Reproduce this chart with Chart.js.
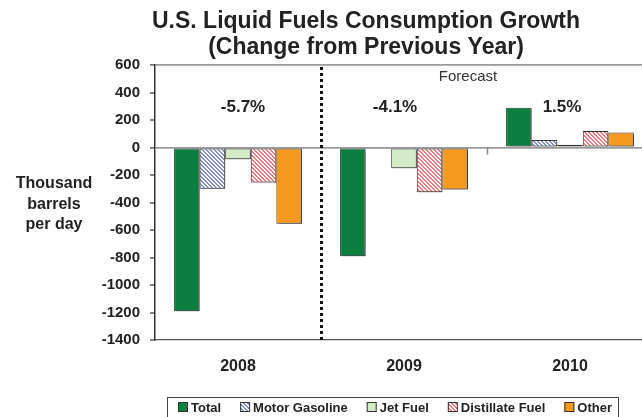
<!DOCTYPE html>
<html>
<head>
<meta charset="utf-8">
<script src="https://cdn.jsdelivr.net/npm/chart.js@4.4.1/dist/chart.umd.min.js"></script>
<style>
  html, body { margin: 0; padding: 0; background: #fff; overflow: hidden; width: 642px; height: 417px; }
  #wrap { position: absolute; left: 0; top: 0; width: 660px; height: 417px; }
</style>
</head>
<body>
<div id="wrap"><canvas id="c" width="660" height="417"></canvas></div>
<script>
// ---- Data ----
const categories = ['2008', '2009', '2010'];
const totalValues = [-1190, -790, 290];
const motorGasolineValues = [-300, -5, 55];
const jetFuelValues = [-85, -150, 20];
const distillateValues = [-255, -325, 120];
const otherValues = [-555, -305, 110];
const percentLabels = ['-5.7%', '-4.1%', '1.5%'];
const yTicks = [600, 400, 200, 0, -200, -400, -600, -800, -1000, -1200, -1400];
const seriesNames = ['Total', 'Motor Gasoline', 'Jet Fuel', 'Distillate Fuel', 'Other'];

const FONT = "'Liberation Sans', Arial, Helvetica, sans-serif";

function hatch(color) {
  const s = 4;
  const c = document.createElement('canvas');
  c.width = s; c.height = s;
  const g = c.getContext('2d');
  g.fillStyle = '#ffffff';
  g.fillRect(0, 0, s, s);
  g.fillStyle = color;
  for (let i = 0; i < s; i++) {
    g.fillRect(i, i, 1, 1);
    g.fillRect((i + 1) % s, i, 1, 1);
  }
  return document.getElementById('c').getContext('2d').createPattern(c, 'repeat');
}

const blueHatch = hatch('#8192CF');
const redHatch = hatch('#F27C7C');
const fills = ['#0A7F3F', blueHatch, '#D3EBC6', redHatch, '#F7991E'];
const series = [totalValues, motorGasolineValues, jetFuelValues, distillateValues, otherValues];

const annot = {
  id: 'annot',
  beforeDatasetsDraw(chart) {
    const ctx = chart.ctx;
    ctx.save();
    ctx.shadowColor = 'rgba(0,0,0,0.28)';
    ctx.shadowOffsetX = 2;
    ctx.shadowOffsetY = 2;
    ctx.shadowBlur = 0;
  },
  afterDatasetsDraw(chart) {
    const ctx = chart.ctx;
    ctx.restore();
    const x = chart.scales.x, y = chart.scales.y, a = chart.chartArea;
    // dotted separator between 2008 and 2009
    const xs = (x.getPixelForValue(0) + x.getPixelForValue(1)) / 2;
    ctx.save();
    ctx.strokeStyle = '#111';
    ctx.lineWidth = 3;
    ctx.setLineDash([3, 3]);
    ctx.beginPath();
    ctx.moveTo(Math.round(xs) + 0.5, a.top + 2);
    ctx.lineTo(Math.round(xs) + 0.5, a.bottom);
    ctx.stroke();
    ctx.restore();
    // small tick at zero between 2009 and 2010
    const xt = (x.getPixelForValue(1) + x.getPixelForValue(2)) / 2;
    const y0 = y.getPixelForValue(0);
    ctx.save();
    ctx.strokeStyle = '#888';
    ctx.lineWidth = 1.5;
    ctx.beginPath();
    ctx.moveTo(Math.round(xt) + 0.5, y0);
    ctx.lineTo(Math.round(xt) + 0.5, y0 + 7);
    ctx.stroke();
    ctx.restore();
  },
  afterDraw(chart) {
    const ctx = chart.ctx;
    const x = chart.scales.x, y = chart.scales.y;
    ctx.save();
    ctx.fillStyle = '#222';
    ctx.textAlign = 'center';
    ctx.textBaseline = 'alphabetic';
    // Title
    ctx.font = 'bold 23px ' + FONT;
    ctx.fillText('U.S. Liquid Fuels Consumption Growth', 366, 28);
    ctx.fillText('(Change from Previous Year)', 366, 54);
    // Y axis title
    ctx.font = 'bold 16px ' + FONT;
    ctx.textBaseline = 'middle';
    ctx.fillText('Thousand', 54, 184);
    ctx.fillText('barrels', 54, 205);
    ctx.fillText('per day', 54, 225);
    // percent labels
    ctx.font = 'bold 17px ' + FONT;
    const offs = [5, -9, -8];
    const py = y.getPixelForValue(295);
    percentLabels.forEach((t, i) => {
      ctx.fillText(t, x.getPixelForValue(i) + offs[i], py);
    });
    // Forecast
    ctx.font = '15px ' + FONT;
    ctx.fillStyle = '#333';
    ctx.fillText('Forecast', x.getPixelForValue(1) + 64, y.getPixelForValue(513));
    // Legend
    ctx.font = 'bold 13px ' + FONT;
    ctx.textAlign = 'left';
    const sw = 10, gapT = 3, gapItem = 19;
    let widths = seriesNames.map(n => ctx.measureText(n).width);
    let total = widths.reduce((s, w) => s + w + sw + gapT, 0) + gapItem * (seriesNames.length - 1);
    let lx = 178;
    const ly = 407;
    const boxL = lx - 11, boxR = lx + total + 6;
    ctx.strokeStyle = '#444';
    ctx.lineWidth = 1;
    ctx.strokeRect(boxL + 0.5, 397.5, boxR - boxL, 30);
    seriesNames.forEach((n, i) => {
      ctx.fillStyle = fills[i];
      ctx.fillRect(lx, ly - 5, sw, sw);
      ctx.strokeStyle = '#333';
      ctx.strokeRect(lx + 0.5, ly - 4.5, sw - 1, sw - 1);
      ctx.fillStyle = '#222';
      ctx.textBaseline = 'middle';
      ctx.fillText(n, lx + sw + gapT, ly + 1);
      lx += sw + gapT + widths[i] + gapItem;
    });
    ctx.restore();
  }
};

new Chart(document.getElementById('c'), {
  type: 'bar',
  data: {
    labels: categories,
    datasets: series.map((vals, i) => ({
      label: seriesNames[i],
      data: vals,
      backgroundColor: fills[i],
      borderColor: '#333',
      borderWidth: 1,
      borderSkipped: false,
      categoryPercentage: 0.77,
      barPercentage: 1.0
    }))
  },
  options: {
    responsive: false,
    animation: false,
    devicePixelRatio: 1,
    layout: { padding: { top: 65, left: 0, right: 7, bottom: 0 } },
    plugins: { legend: { display: false }, title: { display: false }, tooltip: { enabled: false } },
    scales: {
      x: {
        grid: { display: false, drawTicks: false },
        border: { display: true, color: '#555', width: 1.2 },
        ticks: { font: { family: FONT, size: 16, weight: 'bold' }, color: '#222', padding: 17 },
        afterFit(s) { s.height = 77; }
      },
      y: {
        min: -1400, max: 600,
        afterBuildTicks(s) { s.ticks = yTicks.map(v => ({ value: v })); },
        grid: {
          drawTicks: true, tickLength: 5, tickColor: '#333', tickWidth: 1.2,
          color: (c) => (c.tick && (c.tick.value === 0 || c.tick.value === 600)) ? '#9a9a9a' : 'rgba(0,0,0,0)',
          lineWidth: (c) => (c.tick && (c.tick.value === 0 || c.tick.value === 600)) ? 1.8 : 0
        },
        border: { display: true, color: '#333', width: 1.5 },
        ticks: {
          font: { family: FONT, size: 15, weight: 'bold' }, color: '#222', padding: 10,
          callback: (v) => String(v)
        },
        afterFit(s) { s.width = 155; }
      }
    }
  },
  plugins: [annot]
});
</script>
</body>
</html>
